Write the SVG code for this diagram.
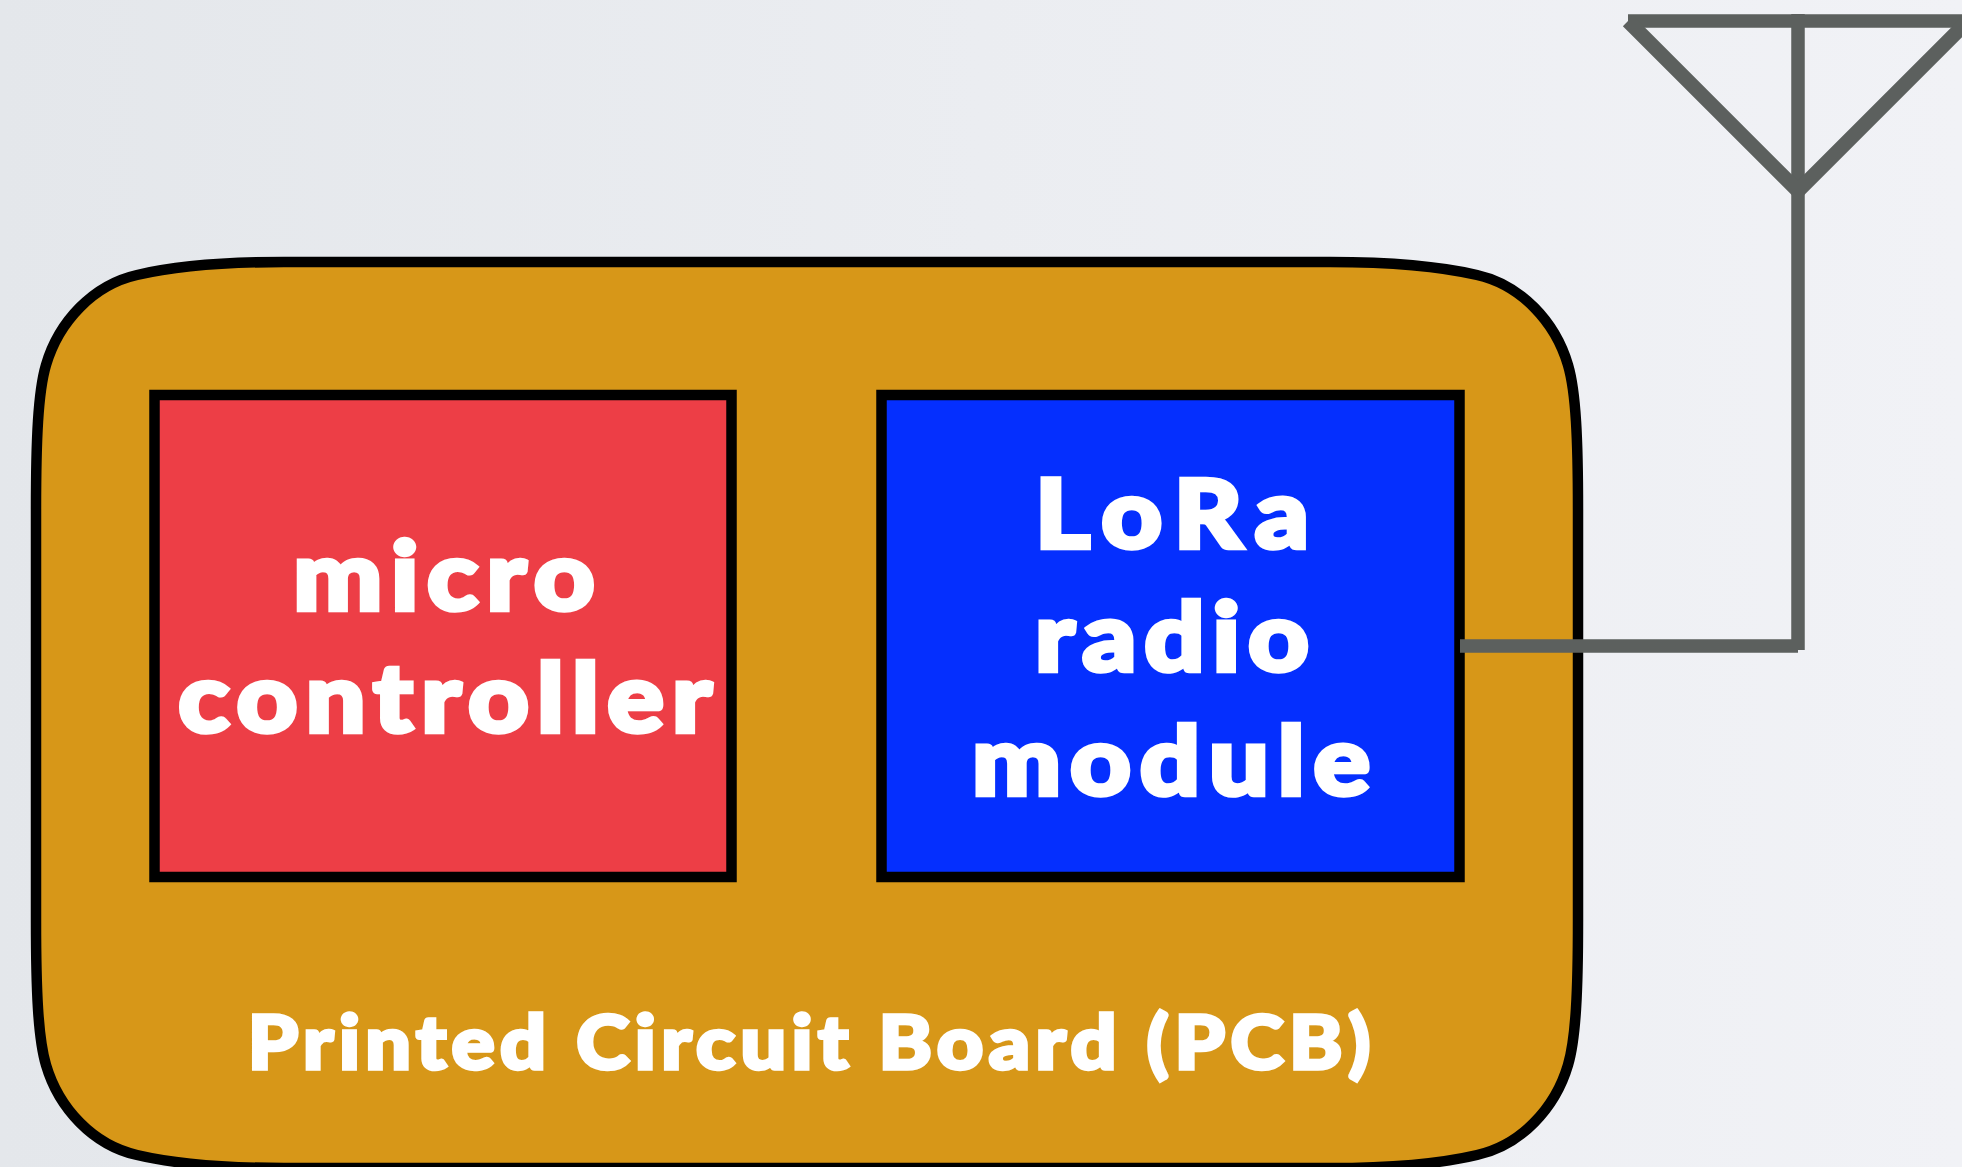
<svg xmlns="http://www.w3.org/2000/svg" width="1962" height="1167" viewBox="0 0 1962 1167">
<defs>
<linearGradient id="bg" x1="0" y1="0" x2="1" y2="0"><stop offset="0" stop-color="#e4e7eb"/><stop offset="0.5" stop-color="#ebedf1"/><stop offset="1" stop-color="#f1f2f6"/></linearGradient>
</defs>
<style>
.box{stroke:#000;stroke-width:10.5;stroke-linejoin:miter}
.wire{fill:none;stroke:#5c605e;stroke-width:13.5;stroke-linecap:butt}
.diag{stroke-width:14.5;stroke-linejoin:miter}
text{font-family:"Lato","Open Sans","Liberation Sans",sans-serif;font-weight:900;fill:#fff;stroke:#fff;text-anchor:middle;stroke-linejoin:miter}
.big{font-size:96px;stroke-width:4.5px}
.small{font-size:74px;stroke-width:3.5px}
</style>
<rect width="1962" height="1167" fill="url(#bg)"/>
<g id="pcb">
<path class="box" fill="#d79718" d="M284 262H1330C1404 262 1447 268 1477 275C1521 284.9 1555.3 321.8 1568 365C1576 392 1578 440 1578 510V920C1578 990 1576 1038 1568 1065C1555.3 1108.2 1521 1145.1 1477 1155C1447 1162 1404 1168 1330 1168H284C210 1168 167 1162 137 1155C93 1145.1 58.7 1108.2 46 1065C38 1038 36 990 36 920V510C36 440 38 392 46 365C58.7 321.8 93 284.9 137 275C167 268 210 262 284 262Z"/>
<text class="small" transform="translate(809 1069) scale(1.09 1)" textLength="1030">Printed Circuit Board (PCB)</text>
</g>
<g id="microcontroller">
<rect class="box" x="154.5" y="395" width="577" height="482" fill="#ed3e46"/>
<text class="big" transform="translate(444 610) scale(1.1 1)" textLength="274">micro</text>
<text class="big" transform="translate(445 732) scale(1.1 1)" textLength="485">controller</text>
</g>
<g id="lora">
<rect class="box" x="881.5" y="395" width="578" height="482" fill="#052ffe"/>
<text class="big" transform="translate(1172 548) scale(1.1 1)" textLength="249">LoRa</text>
<text class="big" transform="translate(1172 671) scale(1.1 1)" textLength="249">radio</text>
<text class="big" transform="translate(1171 795) scale(1.1 1)" textLength="362">module</text>
</g>
<g id="connectors">
<path class="wire" d="M1460 646H1798M1798 650V14M1628 21H1962"/>
<path class="wire diag" d="M1628 21L1798 191L1968 21"/>
</g>
</svg>
